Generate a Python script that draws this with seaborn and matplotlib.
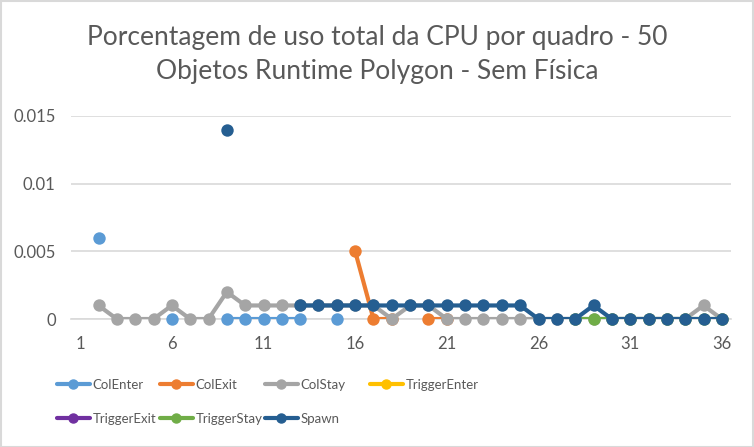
import numpy as np
import pandas as pd
import seaborn as sns
import matplotlib.pyplot as plt
from matplotlib.lines import Line2D
from matplotlib.patches import Rectangle

sns.set_theme(style="white")
plt.rcParams['font.family'] = ['Lato', 'DejaVu Sans']

nan = np.nan
quadros = list(range(1, 37))

# valores (nan = sem valor)
col_enter = [nan, 0.006, nan, nan, nan, 0, nan, nan, 0, 0, 0, 0, 0, nan, 0, nan, nan, nan,
             nan, nan, nan, nan, nan, nan, nan, nan, nan, nan, nan, nan, nan, nan, nan, nan, nan, nan]
col_exit = [nan, nan, nan, nan, nan, nan, nan, nan, nan, nan, nan, nan, nan, nan, nan, 0.005, 0, 0,
            nan, 0, 0, nan, nan, nan, nan, nan, nan, nan, nan, nan, nan, nan, nan, nan, nan, nan]
col_stay = [nan, 0.001, 0, 0, 0, 0.001, 0, 0, 0.002, 0.001, 0.001, 0.001, 0.001, 0.001, 0.001, 0.001, 0.001, 0,
            0.001, 0.001, 0, 0, 0, 0, 0, 0, 0, 0, 0, 0, 0, 0, 0, 0, 0.001, 0]
trigger_enter = [nan] * 36
trigger_exit = [nan] * 36
trigger_stay = [nan] * 27 + [0, 0, 0, 0, 0, 0, 0, 0, 0]
spawn = [nan, nan, nan, nan, nan, nan, nan, nan, 0.014, nan, nan, nan, 0.001, 0.001, 0.001, 0.001, 0.001, 0.001,
         0.001, 0.001, 0.001, 0.001, 0.001, 0.001, 0.001, 0, 0, 0, 0.001, 0, 0, 0, 0, 0, 0, 0]

series = {
    "ColEnter": col_enter,
    "ColExit": col_exit,
    "ColStay": col_stay,
    "TriggerEnter": trigger_enter,
    "TriggerExit": trigger_exit,
    "TriggerStay": trigger_stay,
    "Spawn": spawn,
}
cores = {
    "ColEnter": "#5B9BD5",
    "ColExit": "#ED7D31",
    "ColStay": "#A5A5A5",
    "TriggerEnter": "#FFC000",
    "TriggerExit": "#7030A0",
    "TriggerStay": "#70AD47",
    "Spawn": "#255E91",
}

texto = "#595959"
fig = plt.figure(figsize=(7.54, 4.47), dpi=100)
fig.patches.append(Rectangle((0.001, 0.001), 0.998, 0.997, transform=fig.transFigure,
                             fill=False, edgecolor="#D9D9D9", linewidth=1.5))
ax = fig.add_axes([71 / 754, (447 - 319) / 447, 660 / 754, 203 / 447])

for i, (nome, valores) in enumerate(series.items()):
    df = pd.DataFrame({"quadro": quadros, "valor": valores})
    # segmentos separados nos valores vazios
    df["seg"] = df["valor"].isna().cumsum()
    df = df.dropna()
    if df.empty:
        continue
    sns.lineplot(data=df, x="quadro", y="valor", units="seg", estimator=None,
                 color=cores[nome], linewidth=3, ax=ax, zorder=3 + i * 2)
    sns.scatterplot(data=df, x="quadro", y="valor", color=cores[nome], s=80,
                    linewidth=0, ax=ax, zorder=4 + i * 2, clip_on=False)

ax.set_xlim(0.5, 36.5)
ax.set_ylim(0, 0.015)
ax.set_yticks([0, 0.005, 0.01, 0.015])
ax.set_yticklabels(["0", "0.005", "0.01", "0.015"])
ax.set_xticks([1, 6, 11, 16, 21, 26, 31, 36])
ax.grid(axis="y", color="#D9D9D9", linewidth=1.2)
ax.set_axisbelow(True)
for lado in ["top", "right", "left"]:
    ax.spines[lado].set_visible(False)
ax.spines["bottom"].set_color("#D9D9D9")
ax.spines["bottom"].set_linewidth(1.2)
ax.tick_params(axis="both", length=0, labelsize=12, labelcolor=texto)
ax.tick_params(axis="y", pad=11)
ax.tick_params(axis="x", pad=12)
ax.set_xlabel("")
ax.set_ylabel("")

fig.text(0.5, 1 - 37 / 447, "Porcentagem de uso total da CPU por quadro - 50", ha="center", va="center",
         fontsize=19, color=texto)
fig.text(0.5, 1 - 72 / 447, "Objetos Runtime Polygon - Sem Física", ha="center", va="center",
         fontsize=19, color=texto)

# legenda em 4 colunas
nomes = list(series.keys())
colunas = [[nomes[0], nomes[4]], [nomes[1], nomes[5]], [nomes[2], nomes[6]], [nomes[3]]]
xs = [57, 160, 265, 370]
for x0, col in zip(xs, colunas):
    handles = [Line2D([], [], color=cores[n], linewidth=3, marker="o", markersize=6.5) for n in col]
    leg = fig.legend(handles, col, loc="upper left", bbox_to_anchor=(x0 / 754, 1 - 379 / 447),
                     frameon=False, fontsize=9.5, handlelength=2.5, handletextpad=0.2,
                     labelspacing=1.65, borderaxespad=0, borderpad=0)
    for t in leg.get_texts():
        t.set_color(texto)

fig.savefig("out.png", dpi=100)
